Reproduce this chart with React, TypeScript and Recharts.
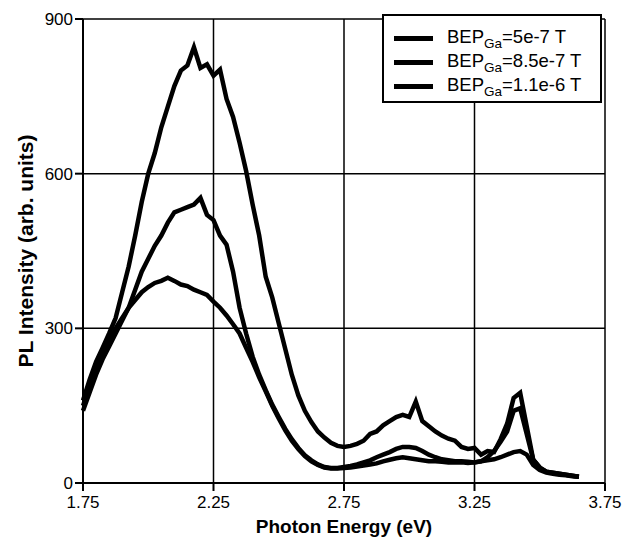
import React from 'react';
import { LineChart, Line, CartesianGrid, XAxis, YAxis, Legend } from 'recharts';

// photon energy grid (eV)
const energy: number[] = [
  1.75, 1.775, 1.8, 1.825, 1.85, 1.875, 1.9, 1.925, 1.95, 1.975,
  2.0, 2.025, 2.05, 2.075, 2.1, 2.125, 2.15, 2.175, 2.2, 2.225,
  2.25, 2.275, 2.3, 2.325, 2.35, 2.375, 2.4, 2.425, 2.45, 2.475,
  2.5, 2.525, 2.55, 2.575, 2.6, 2.625, 2.65, 2.675, 2.7, 2.725,
  2.75, 2.775, 2.8, 2.825, 2.85, 2.875, 2.9, 2.925, 2.95, 2.975,
  3.0, 3.025, 3.05, 3.075, 3.1, 3.125, 3.15, 3.175, 3.2, 3.225,
  3.25, 3.275, 3.3, 3.325, 3.35, 3.375, 3.4, 3.425, 3.45, 3.475,
  3.5, 3.525, 3.55, 3.575, 3.6, 3.625, 3.65,
];

// BEP_Ga = 5e-7 T
const pl5e7: number[] = [
  160, 200, 235, 262, 290, 320, 370, 420, 480, 545,
  600, 640, 690, 730, 770, 800, 810, 845, 805, 812,
  790, 802, 745, 710, 660, 605, 540, 480, 400, 360,
  310, 260, 210, 170, 140, 118, 100, 88, 78, 72,
  70, 72, 76, 82, 95, 100, 112, 120, 128, 132,
  128, 158, 120, 110, 100, 92, 86, 82, 70, 66,
  68, 55, 62, 60, 85, 115, 165, 175, 110, 45,
  30, 22, 20, 18, 16, 14, 12,
];

// BEP_Ga = 8.5e-7 T
const pl85e7: number[] = [
  140, 175, 210, 240, 265, 290, 315, 340, 375, 410,
  435, 460, 480, 505, 525, 530, 535, 540, 553, 520,
  510, 480, 462, 410, 340, 290, 245, 210, 180, 152,
  128, 105, 85, 68, 54, 44, 36, 31, 29, 29,
  31, 33, 36, 40, 44, 50, 55, 60, 66, 70,
  70, 68, 62, 55, 50, 46, 44, 42, 42, 41,
  40, 42, 50, 62, 80, 100, 140, 145, 95, 45,
  30, 22, 20, 18, 16, 14, 12,
];

// BEP_Ga = 1.1e-6 T
const pl11e6: number[] = [
  150, 185, 220, 250, 275, 300, 320, 340, 355, 370,
  380, 388, 392, 398, 392, 385, 382, 375, 370, 365,
  352, 340, 325, 308, 290, 262, 235, 205, 178, 150,
  125, 102, 82, 66, 52, 42, 35, 30, 28, 28,
  29, 30, 32, 34, 36, 38, 42, 45, 48, 50,
  48, 46, 44, 42, 42, 41, 40, 40, 40, 39,
  40, 42, 44, 46, 50, 55, 60, 62, 55, 35,
  25, 20, 18, 16, 15, 13, 12,
];

const xTicks = [1.75, 2.25, 2.75, 3.25, 3.75];
const yTicks = [0, 300, 600, 900];
const legendLabels = ['=5e-7 T', '=8.5e-7 T', '=1.1e-6 T'];

const data = energy.map((e, i) => ({
  e,
  a: pl5e7[i],
  b: pl85e7[i],
  c: pl11e6[i],
}));

const font = "'Liberation Sans', Arial, sans-serif";

const LegendBox = () => (
  <div
    style={{
      border: '2px solid #000',
      background: '#fff',
      width: 220,
      height: 89,
      boxSizing: 'border-box',
      paddingTop: 10,
      fontFamily: font,
      fontSize: 18.5,
      color: '#000',
    }}
  >
    {legendLabels.map((lab) => (
      <div key={lab} style={{ display: 'flex', alignItems: 'center', height: 24 }}>
        <div style={{ width: 39, height: 5, background: '#000', marginLeft: 10, marginRight: 14 }} />
        <span style={{ whiteSpace: 'nowrap' }}>
          BEP
          <sub style={{ fontSize: 13.5, verticalAlign: -5 }}>Ga</sub>
          {lab}
        </span>
      </div>
    ))}
  </div>
);

export default function App() {
  return (
    <div style={{ fontFamily: font }}>
      <LineChart
        width={629}
        height={532}
        data={data}
        margin={{ top: 11, right: 32, left: 0, bottom: 0 }}
      >
        <CartesianGrid stroke="#000" strokeWidth={1.5} />
        <XAxis
          dataKey="e"
          type="number"
          domain={[1.75, 3.75]}
          ticks={xTicks}
          height={57}
          tickSize={8}
          tickMargin={5}
          tickFormatter={(v: number) => v.toFixed(2)}
          tick={{ fill: '#000', fontSize: 17, fontFamily: font }}
          axisLine={{ stroke: '#000', strokeWidth: 2 }}
          tickLine={{ stroke: '#000', strokeWidth: 2 }}
          label={{
            value: 'Photon Energy (eV)',
            position: 'insideBottom',
            offset: 7,
            style: { fill: '#000', fontSize: 19, fontWeight: 'bold', fontFamily: font },
          }}
        />
        <YAxis
          type="number"
          domain={[0, 900]}
          ticks={yTicks}
          width={75}
          tickSize={8}
          tickMargin={2}
          tick={{ fill: '#000', fontSize: 17, fontFamily: font }}
          axisLine={{ stroke: '#000', strokeWidth: 2 }}
          tickLine={{ stroke: '#000', strokeWidth: 2 }}
          label={{
            value: 'PL Intensity (arb. units)',
            angle: -90,
            position: 'insideLeft',
            offset: 18,
            style: { fill: '#000', fontSize: 21, fontWeight: 'bold', fontFamily: font, textAnchor: 'middle' },
          }}
        />
        <Legend
          layout="vertical"
          align="center"
          verticalAlign="middle"
          content={<LegendBox />}
          wrapperStyle={{ top: 6, left: 374, width: 'auto', height: 'auto' }}
        />
        <Line type="linear" dataKey="a" stroke="#000" strokeWidth={4.5} dot={false} isAnimationActive={false} />
        <Line type="linear" dataKey="b" stroke="#000" strokeWidth={4.5} dot={false} isAnimationActive={false} />
        <Line type="linear" dataKey="c" stroke="#000" strokeWidth={4.5} dot={false} isAnimationActive={false} />
      </LineChart>
    </div>
  );
}
